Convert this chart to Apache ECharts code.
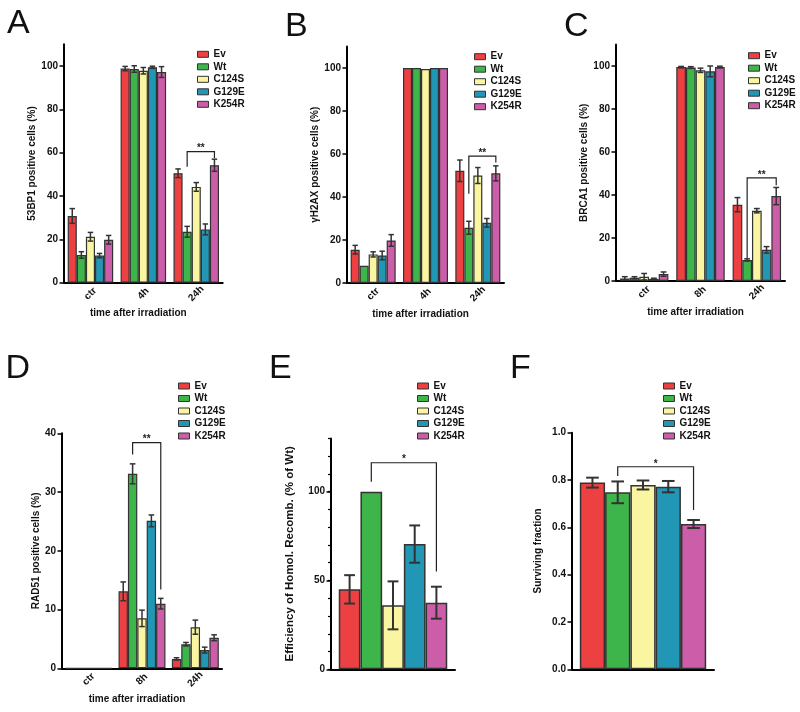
<!DOCTYPE html>
<html><head><meta charset="utf-8">
<script src="https://cdn.jsdelivr.net/npm/echarts@6/dist/echarts.min.js"></script>
<style>html,body{margin:0;padding:0;background:#fff}#c{width:800px;height:712px}</style>
</head><body><div id="c"></div>
<script>
// ---------- data ----------
const SERIES_NAMES = ['Ev', 'Wt', 'C124S', 'G129E', 'K254R'];
const COLORS = ['#ec4043', '#3db54a', '#f9f5a0', '#2296b5', '#cc5ea9'];

const CATS_A = ['ctr', '4h', '24h'];
const CATS_B = ['ctr', '4h', '24h'];
const CATS_C = ['ctr', '8h', '24h'];
const CATS_D = ['ctr', '8h', '24h'];
const CATS_E = [''];
const CATS_F = [''];

// rows = series (Ev, Wt, C124S, G129E, K254R), columns = categories
const A_MEAN = [[30.8, 98.8, 50.5], [12.8, 98.6, 23.5], [21.2, 97.8, 44.2], [12.5, 99.4, 24.6], [19.8, 97.2, 54.2]];
const A_ERR  = [[3.4, 1.0, 2.0], [1.5, 1.5, 2.5], [2.0, 1.5, 2.0], [1.0, 0.5, 2.5], [2.0, 2.5, 2.8]];
const B_MEAN = [[15.5, 100, 52.2], [8.0, 100, 25.7], [13.3, 99.5, 50.0], [12.8, 100, 28.0], [19.8, 100, 51.0]];
const B_ERR  = [[2.0, 0, 5.0], [0, 0, 3.0], [1.2, 0, 3.7], [2.0, 0, 2.0], [2.7, 0, 3.5]];
const C_MEAN = [[1.2, 99.5, 35.5], [1.5, 99.3, 9.8], [2.0, 98.0, 32.7], [1.0, 97.5, 14.5], [3.2, 99.5, 39.5]];
const C_ERR  = [[0.8, 0.3, 3.3], [0.5, 0.4, 0.5], [1.5, 1.0, 1.0], [0.3, 2.5, 1.5], [1.0, 0.4, 4.0]];
const D_MEAN = [[0, 13.1, 1.6], [0, 33.1, 4.1], [0, 8.5, 7.0], [0, 25.1, 3.1], [0, 11.0, 5.2]];
const D_ERR  = [[0, 1.6, 0.2], [0, 1.7, 0.3], [0, 1.4, 1.2], [0, 1.0, 0.5], [0, 0.9, 0.5]];
const E_MEAN = [[45], [100], [36], [70.5], [37.5]];
const E_ERR  = [[8], [0], [13.5], [10.5], [9]];
const F_MEAN = [[0.789], [0.748], [0.779], [0.772], [0.614]];
const F_ERR  = [[0.021], [0.046], [0.019], [0.024], [0.017]];

// significance brackets: [cat1, series1, cat2, series2, topValue, leftLegEnd, rightLegEnd]
const A_SIG = [2, 1, 2, 4, 60.5, 53.5, 57.5];
const B_SIG = [2, 1, 2, 4, 59, 41.5, 56];
const C_SIG = [2, 1, 2, 4, 48, 10.5, 44.5];
const D_SIG = [1, 1, 1, 4, 38.4, 36.4, 13.4];
const E_SIG = [0, 1, 0, 4, 116.3, 105.6, 55];
const F_SIG = [0, 1, 0, 4, 0.856, 0.817, 0.673];
const SIG_LABELS = ['**', '**', '**', '**', '*', '*'];

// axis ticks
const TICKS_ABC = [0, 20, 40, 60, 80, 100];
const TICKS_D = [0, 10, 20, 30, 40];
const TICKS_E = [0, 50, 100];
const TICKS_E_MINOR = [0, 10, 20, 30, 40, 50, 60, 70, 80, 90, 100, 110, 120, 130];
const TICKS_F = [0, 0.2, 0.4, 0.6, 0.8, 1.0];

const Y_NAMES = ['53BP1 positive cells (%)', 'γH2AX positive cells (%)', 'BRCA1 positive cells (%)',
                 'RAD51 positive cells (%)', 'Efficiency of Homol. Recomb. (% of Wt)', 'Surviving fraction'];
const X_NAME = 'time after irradiation';
const LETTERS = ['A', 'B', 'C', 'D', 'E', 'F'];

// ---------- layout ----------
const FONT = '"Liberation Sans", Arial, Helvetica, sans-serif';
const panels = [
  {cats: CATS_A, mean: A_MEAN, err: A_ERR, sig: A_SIG, max: 110, ticks: TICKS_ABC,
   grid: {left: 64, top: 44.3, width: 158.7, height: 238.4}, nameGap: 26, nameSize: 10, xName: true,
   legend: {left: 192, top: 44.3}, gap: 0.14, letter: [7, 6.8], ew: 1.5, bw: 1.2, cap: 0.3},
  {cats: CATS_B, mean: B_MEAN, err: B_ERR, sig: B_SIG, max: 110, ticks: TICKS_ABC,
   grid: {left: 347, top: 46.5, width: 157, height: 236.5}, nameGap: 26, nameSize: 10, xName: true,
   legend: {left: 469, top: 46.7}, gap: 0.14, letter: [285, 9.5], ew: 1.5, bw: 1.2, cap: 0.3},
  {cats: CATS_C, mean: C_MEAN, err: C_ERR, sig: C_SIG, max: 110, ticks: TICKS_ABC,
   grid: {left: 616, top: 44.5, width: 169, height: 236.5}, nameGap: 22, nameSize: 10, xName: true,
   legend: {left: 743, top: 45.7}, gap: 0.14, letter: [564, 9.5], ew: 1.5, bw: 1.2, cap: 0.3},
  {cats: CATS_D, mean: D_MEAN, err: D_ERR, sig: D_SIG, max: 40, ticks: TICKS_D,
   grid: {left: 62, top: 433.3, width: 160, height: 235}, nameGap: 18, nameSize: 10, xName: true,
   legend: {left: 173, top: 376}, gap: 0.12, letter: [5.5, 351.5], ew: 1.5, bw: 1.2, cap: 0.3},
  {cats: CATS_E, mean: E_MEAN, err: E_ERR, sig: E_SIG, max: 130, ticks: TICKS_E, minor: TICKS_E_MINOR,
   grid: {left: 331, top: 438.4, width: 124, height: 230.9}, nameGap: 35, nameSize: 11.5, xName: false,
   legend: {left: 412, top: 376}, gap: 0.125, letter: [269, 351.5], ew: 2, bw: 1.5, cap: 0.25},
  {cats: CATS_F, mean: F_MEAN, err: F_ERR, sig: F_SIG, max: 1.0, ticks: TICKS_F, fmt: v => v.toFixed(1),
   grid: {left: 572, top: 432.7, width: 142, height: 236.6}, nameGap: 29, nameSize: 10, xName: false,
   legend: {left: 658, top: 376}, gap: 0.11, letter: [510, 351.5], ew: 2, bw: 1.5, cap: 0.25}
];

const option = {
  animation: false,
  backgroundColor: '#fff',
  textStyle: {fontFamily: FONT},
  grid: [], xAxis: [], yAxis: [], legend: [], series: [], graphic: []
};

function barX(api, cat, s, gap) {
  const band = api.size([1, 0])[0];
  const c = api.coord([cat, 0]);
  const gw = band * (1 - gap);
  const bw = gw / 5;
  return {x: c[0] - gw / 2 + bw * (s + 0.5), bw: bw};
}

panels.forEach((p, i) => {
  option.grid.push(Object.assign({containLabel: false}, p.grid));
  option.xAxis.push({
    type: 'category', gridIndex: i, data: p.cats,
    axisLine: {show: true, lineStyle: {color: '#000', width: 2}},
    axisTick: {show: false},
    axisLabel: {show: p.xName, rotate: 45, align: 'center', verticalAlign: 'middle', margin: 11,
                fontSize: 10, fontWeight: 'bold', color: '#111', fontFamily: FONT},
    name: p.xName ? X_NAME : '', nameLocation: 'middle', nameGap: 26,
    nameTextStyle: {fontSize: 10, fontWeight: 'bold', color: '#111', fontFamily: FONT, padding: [0, 10, 0, 0]},
    splitLine: {show: false}
  });
  const yIdx = option.yAxis.length;
  option.yAxis.push({
    type: 'value', gridIndex: i, min: 0, max: p.max, position: 'left',
    axisLine: {show: true, onZero: false, lineStyle: {color: '#000', width: 2}},
    axisTick: {show: true, length: 4.5, customValues: p.ticks, lineStyle: {color: '#000', width: 1.5}},
    axisLabel: {customValues: p.ticks, margin: 6, fontSize: 10, fontWeight: 'bold', color: '#111',
                fontFamily: FONT, formatter: p.fmt ? p.fmt : (v => String(v))},
    splitLine: {show: false},
    name: Y_NAMES[i], nameLocation: 'middle', nameGap: p.nameGap,
    nameTextStyle: {fontSize: p.nameSize, fontWeight: 'bold', color: '#111', fontFamily: FONT}
  });
  if (p.minor) {
    option.yAxis.push({
      type: 'value', gridIndex: i, min: 0, max: p.max, position: 'left', offset: 0,
      axisLine: {show: false},
      axisTick: {show: true, length: 3, customValues: p.minor, lineStyle: {color: '#000', width: 1.2}},
      axisLabel: {show: false}, splitLine: {show: false}
    });
  }
  option.legend.push({
    orient: 'vertical', left: p.legend.left, top: p.legend.top, data: SERIES_NAMES,
    icon: 'rect', itemWidth: 11, itemHeight: 6, itemGap: 2.5, selectedMode: false,
    itemStyle: {borderColor: '#333', borderWidth: 1},
    textStyle: {fontSize: 10, fontWeight: 'bold', color: '#111', fontFamily: FONT, lineHeight: 10}
  });
  SERIES_NAMES.forEach((name, s) => {
    option.series.push({
      type: 'bar', name: name, xAxisIndex: i, yAxisIndex: yIdx, data: p.mean[s],
      barGap: '0%', barCategoryGap: (p.gap * 100) + '%',
      itemStyle: {color: COLORS[s], borderColor: '#333', borderWidth: p.bw}, z: 2
    });
  });
  // error bars
  const errData = [];
  p.cats.forEach((c, ci) => {
    SERIES_NAMES.forEach((n, s) => errData.push([ci, s, p.mean[s][ci], p.err[s][ci]]));
  });
  option.series.push({
    type: 'custom', xAxisIndex: i, yAxisIndex: yIdx, data: errData, z: 5, clip: false,
    encode: {x: 0, y: 2},
    renderItem: (params, api) => {
      const cat = api.value(0), s = api.value(1), m = api.value(2), e = api.value(3);
      if (!(e > 0)) return null;
      const b = barX(api, cat, s, p.gap);
      const yt = api.coord([cat, m + e])[1];
      const yb = api.coord([cat, m - e])[1];
      const hw = b.bw * p.cap;
      const st = {stroke: '#333', lineWidth: p.ew};
      return {type: 'group', children: [
        {type: 'line', shape: {x1: b.x, y1: yt, x2: b.x, y2: yb}, style: st},
        {type: 'line', shape: {x1: b.x - hw, y1: yt, x2: b.x + hw, y2: yt}, style: st},
        {type: 'line', shape: {x1: b.x - hw, y1: yb, x2: b.x + hw, y2: yb}, style: st}
      ]};
    }
  });
  // significance bracket
  option.series.push({
    type: 'custom', xAxisIndex: i, yAxisIndex: yIdx, data: [p.sig], z: 6, clip: false,
    encode: {x: 0, y: 4},
    renderItem: (params, api) => {
      const c1 = api.value(0), s1 = api.value(1), c2 = api.value(2), s2 = api.value(3);
      const top = api.value(4), l = api.value(5), r = api.value(6);
      const x1 = barX(api, c1, s1, p.gap).x, x2 = barX(api, c2, s2, p.gap).x;
      const yt = api.coord([c1, top])[1], yl = api.coord([c1, l])[1], yr = api.coord([c2, r])[1];
      return {type: 'group', children: [
        {type: 'polyline', shape: {points: [[x1, yl], [x1, yt], [x2, yt], [x2, yr]]},
         style: {stroke: '#222', lineWidth: 1.2, fill: null}},
        {type: 'text', style: {text: SIG_LABELS[i], x: (x1 + x2) / 2, y: yt + 2, align: 'center',
         verticalAlign: 'bottom', font: 'bold 10px ' + FONT, fill: '#222'}}
      ]};
    }
  });
  option.graphic.push({
    type: 'text', x: p.letter[0], y: p.letter[1],
    style: {text: LETTERS[i], font: 'normal 34px ' + FONT, fill: '#111', verticalAlign: 'top'}
  });
});

const chart = echarts.init(document.getElementById('c'), null, {renderer: 'canvas'});
chart.setOption(option);
</script>
</body></html>
